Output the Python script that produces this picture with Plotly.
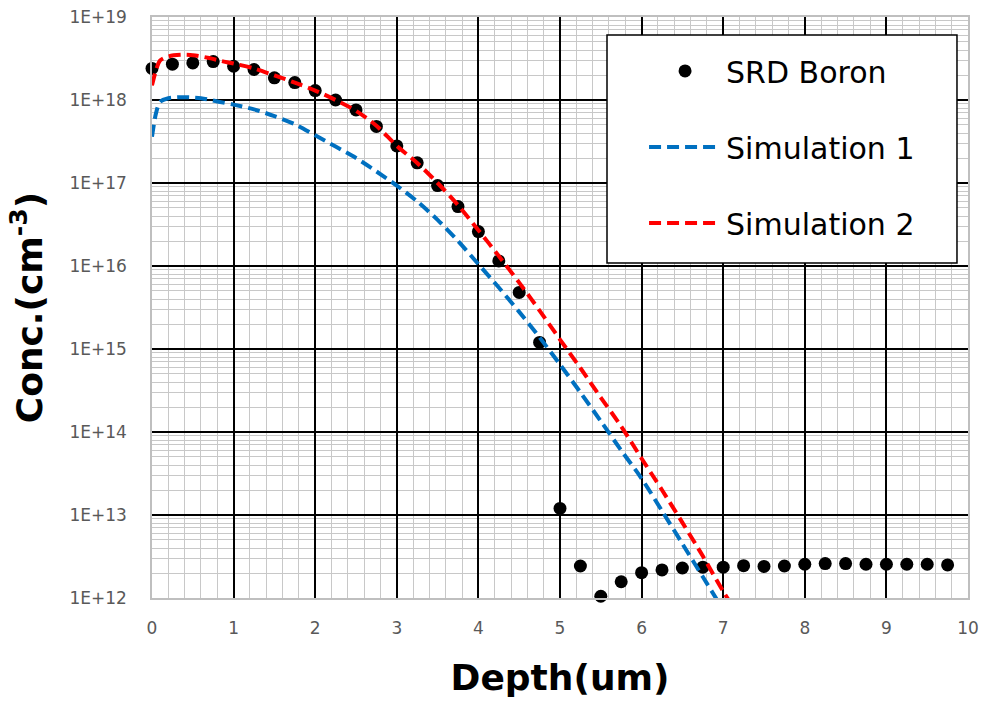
import plotly.graph_objects as go

# ---- data ----
srd_depth = [0, 0.25, 0.5, 0.75, 1.0, 1.25, 1.5, 1.75, 2.0, 2.25, 2.5, 2.75, 3.0, 3.25,
             3.5, 3.75, 4.0, 4.25, 4.5, 4.75, 5.0, 5.25, 5.5, 5.75, 6.0, 6.25, 6.5, 6.75,
             7.0, 7.25, 7.5, 7.75, 8.0, 8.25, 8.5, 8.75, 9.0, 9.25, 9.5, 9.75]
srd_conc = [2.4e18, 2.7e18, 2.8e18, 2.9e18, 2.55e18, 2.33e18, 1.85e18, 1.62e18, 1.3e18,
            1.0e18, 7.6e17, 4.8e17, 2.8e17, 1.75e17, 9.3e16, 5.2e16, 2.6e16, 1.15e16,
            4.8e15, 1.2e15, 1.2e13, 2.43e12, 1.05e12, 1.57e12, 2.02e12, 2.18e12, 2.3e12,
            2.35e12, 2.35e12, 2.45e12, 2.4e12, 2.43e12, 2.55e12, 2.6e12, 2.6e12, 2.55e12,
            2.55e12, 2.55e12, 2.55e12, 2.5e12]

sim1_depth = [0, 0.05, 0.1, 0.2, 0.4, 0.6, 0.8, 1.0, 1.25, 1.5, 1.75, 2.0, 2.25, 2.5, 2.75,
              3.0, 3.25, 3.5, 3.75, 4.0, 4.25, 4.5, 4.75, 5.0, 5.25, 5.5, 5.75, 6.0, 6.25,
              6.5, 6.75, 7.0]
sim1_conc = [3.6e17, 7.0e17, 9.5e17, 1.05e18, 1.08e18, 1.05e18, 9.6e17, 8.8e17, 7.7e17,
             6.4e17, 5.1e17, 3.75e17, 2.75e17, 2.0e17, 1.38e17, 9.3e16, 6.0e16, 3.6e16,
             2.0e16, 1.05e16, 5.5e15, 2.8e15, 1.38e15, 6.5e14, 3.0e14, 1.35e14, 6.0e13,
             2.75e13, 1.12e13, 4.5e12, 1.8e12, 7.2e11]

sim2_depth = [0, 0.05, 0.1, 0.2, 0.35, 0.5, 0.7, 0.85, 1.0, 1.25, 1.5, 1.75, 2.0, 2.25,
              2.5, 2.75, 3.0, 3.25, 3.5, 3.75, 4.0, 4.25, 4.5, 4.75, 5.0, 5.25, 5.5, 5.75,
              6.0, 6.25, 6.5, 6.75, 7.0, 7.25]
sim2_conc = [1.5e18, 2.3e18, 3.0e18, 3.35e18, 3.5e18, 3.47e18, 3.2e18, 2.95e18, 2.75e18,
             2.4e18, 1.98e18, 1.62e18, 1.3e18, 1.0e18, 7.4e17, 4.9e17, 2.8e17, 1.74e17,
             1.0e17, 5.4e16, 2.7e16, 1.32e16, 6.3e15, 2.9e15, 1.3e15, 5.9e14, 2.6e14,
             1.17e14, 4.8e13, 2.0e13, 8.1e12, 3.2e12, 1.2e12, 5e11]

x_ticks = [0, 1, 2, 3, 4, 5, 6, 7, 8, 9, 10]
y_tickvals = [1e12, 1e13, 1e14, 1e15, 1e16, 1e17, 1e18, 1e19]
y_ticktext = ["1E+12", "1E+13", "1E+14", "1E+15", "1E+16", "1E+17", "1E+18", "1E+19"]

FONT = "DejaVu Sans, Liberation Sans, sans-serif"

fig = go.Figure()
fig.add_trace(go.Scatter(
    x=srd_depth, y=srd_conc, mode="markers", name="SRD Boron", legendgroup="a",
    marker=dict(color="black", size=13), cliponaxis=False))
fig.add_trace(go.Scatter(
    x=sim1_depth, y=sim1_conc, mode="lines", name="Simulation 1", legendgroup="b",
    line=dict(color="#0070C0", width=4, dash="12px,6px", shape="spline", smoothing=0.8)))
fig.add_trace(go.Scatter(
    x=sim2_depth, y=sim2_conc, mode="lines", name="Simulation 2", legendgroup="c",
    line=dict(color="#FF0000", width=4, dash="12px,6px", shape="spline", smoothing=0.8)))

# legend frame (white box with black border) drawn above the data
fig.add_shape(type="rect", xref="paper", yref="paper",
              x0=0.5576, x1=0.9865, y0=0.5766, y1=0.969,
              fillcolor="white", line=dict(color="black", width=1.5), layer="above")

fig.update_layout(
    width=984, height=704,
    margin=dict(l=152, r=16, t=17, b=106),
    plot_bgcolor="white", paper_bgcolor="white",
    font=dict(family=FONT, color="black"),
    showlegend=True,
    legend=dict(
        x=0.603, y=0.952, xanchor="left", yanchor="top",
        bgcolor="rgba(0,0,0,0)", borderwidth=0,
        font=dict(size=30, family=FONT, color="black"),
        itemwidth=72, tracegroupgap=34,
    ),
    xaxis=dict(
        range=[0, 10], tickvals=x_ticks, ticktext=[str(v) for v in x_ticks],
        showgrid=True, gridcolor="black", gridwidth=2,
        minor=dict(dtick=0.2, showgrid=True, gridcolor="#c8c8c8", gridwidth=1.3),
        showline=True, linecolor="#bfbfbf", linewidth=1.5, mirror=True,
        zeroline=False, ticks="", ticklabelstandoff=14, automargin=False,
        tickfont=dict(size=17, color="#595959", family=FONT),
        title=dict(text="<b>Depth(um)</b>", font=dict(size=36, family=FONT), standoff=28),
    ),
    yaxis=dict(
        type="log", range=[12, 19], tickvals=y_tickvals, ticktext=y_ticktext,
        showgrid=True, gridcolor="black", gridwidth=2,
        minor=dict(dtick="D1", showgrid=True, gridcolor="#c8c8c8", gridwidth=1.3),
        showline=True, linecolor="#bfbfbf", linewidth=1.5, mirror=True,
        zeroline=False, ticks="", ticklabelstandoff=20, automargin=False,
        tickfont=dict(size=17, color="#595959", family=FONT),
        title=dict(text="<b>Conc.(cm<sup>-3</sup>)</b>", font=dict(size=36, family=FONT), standoff=16),
    ),
)

fig.write_html("out.html")
